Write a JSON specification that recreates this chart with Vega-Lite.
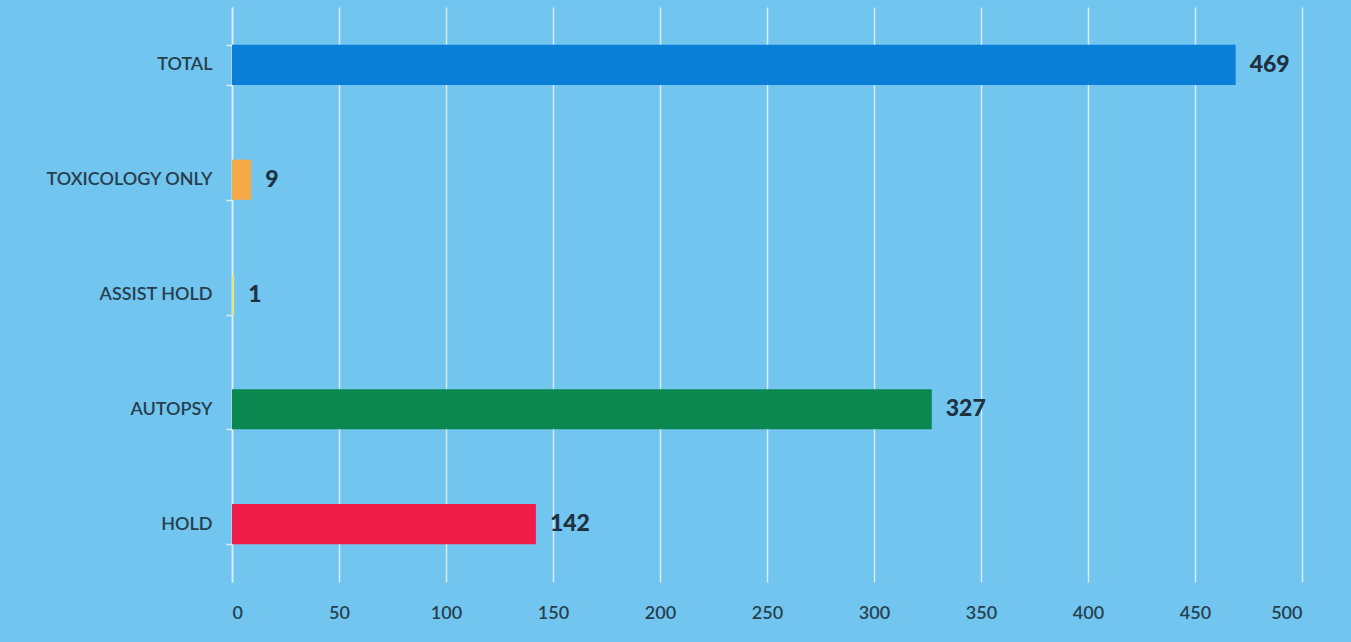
{
  "$schema": "https://vega.github.io/schema/vega-lite/v6.json",
  "width": 1070,
  "height": 575,
  "autosize": {"type": "none"},
  "padding": {"left": 232, "top": 7, "right": 49, "bottom": 60},
  "background": "#72c5ee",
  "config": {
    "view": {"stroke": null},
    "font": "Lato"
  },
  "data": {
    "values": [
      {"category": "TOTAL", "count": 469, "color": "#0a7fd8"},
      {"category": "TOXICOLOGY ONLY", "count": 9, "color": "#f4a846"},
      {"category": "ASSIST HOLD", "count": 1, "color": "#e8e27a"},
      {"category": "AUTOPSY", "count": 327, "color": "#0b8850"},
      {"category": "HOLD", "count": 142, "color": "#ef1c47"}
    ]
  },
  "encoding": {
    "y": {
      "field": "category",
      "type": "nominal",
      "sort": null,
      "scale": {"paddingInner": 0.65, "paddingOuter": 0.33},
      "axis": {
        "title": null,
        "tickBand": "extent",
        "tickSize": 6,
        "tickWidth": 1.5,
        "domainWidth": 1.5,
        "tickColor": "#dbeef9",
        "domainColor": "#dbeef9",
        "labelFontSize": 18,
        "labelColor": "#263f4e",
        "labelFontWeight": 600,
        "labelPadding": 14,
        "labelFont": "Lato"
      }
    },
    "x": {
      "field": "count",
      "type": "quantitative",
      "scale": {"domain": [0, 500], "nice": false},
      "axis": {
        "title": null,
        "values": [0, 50, 100, 150, 200, 250, 300, 350, 400, 450, 500],
        "grid": true,
        "gridColor": "#d6ecf8",
        "gridWidth": 1.5,
        "domain": false,
        "ticks": false,
        "labelFontSize": 18,
        "labelColor": "#263f4e",
        "labelFontWeight": 600,
        "labelPadding": 22,
        "labelFont": "Lato"
      }
    }
  },
  "layer": [
    {
      "mark": {"type": "bar"},
      "encoding": {
        "color": {"field": "color", "type": "nominal", "scale": null}
      }
    },
    {
      "mark": {"type": "text", "align": "left", "dx": 14, "fontSize": 23, "fontWeight": 900, "color": "#1f3140", "font": "Lato"},
      "encoding": {"text": {"field": "count", "type": "quantitative"}}
    }
  ]
}
